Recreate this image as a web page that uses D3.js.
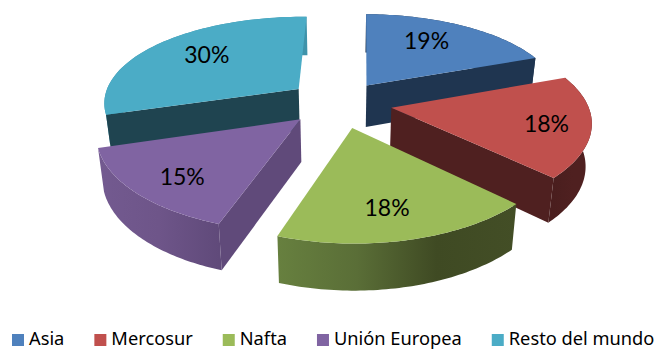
<!DOCTYPE html>
<html>
<head>
<meta charset="utf-8">
<script src="https://cdn.jsdelivr.net/npm/d3@7"></script>
<style>
html,body{margin:0;padding:0;background:#fff;overflow:hidden}
svg{display:block}
</style>
</head>
<body>
<svg id="chart" width="656" height="349"></svg>
<script>
const categories = ["Asia", "Mercosur", "Nafta", "Unión Europea", "Resto del mundo"];
const shares = [19, 18, 18, 15, 30];
const topColors = ["#4F81BD", "#C0504D", "#9BBB59", "#8064A2", "#4BACC6"];
const cutColors = ["#1F3550", "#4F2020", "#3F4A23", "#604A7A", "#1F4450"];
const wallStops = [
  ["#1F3550", "#1F3550"],
  ["#4A1E1E", "#4F2020", "#4F2020"],
  ["#67803F", "#5A6E37", "#3F4A23", "#434E26"],
  ["#735A90", "#6E5589", "#604A7A"],
  ["#3F93AA", "#3F93AA"]
];
const drawOrder = [4, 0, 3, 1, 2];
// Which radial cut faces can be seen: 0 = leading edge, 1 = trailing edge
const visibleCuts = [[1], [1], [], [0], [0]];
const explodeBy = [0.25, 0.255, 0.28, 0.26, 0.27];
const sliceNudge = [-3, 0, -3, -4, -2];
const labelRadius = [0.69, 0.78, 0.74, 0.77, 0.68];
const labelTurnDeg = [-4.5, 1, 2, -3, 3];

// Perspective of the tilted pie
const cx = 342, cy = 103, rx = 196, ry = 88, perspX = 0.14, perspY = 0.16;
const thick = 42, spread = 0.025, turn = 1 * Math.PI / 180;

function project(X, Y, z) {
  const sx = 1 / (1 - perspX * Y), sy = 1 / (1 - perspY * Y);
  const f = 1 - z * spread;
  return [cx + rx * X * sx * f, cy + ry * Y * sy + z * thick * Math.sqrt(sy)];
}

const pie = d3.pie().sort(null).value(d => d).startAngle(turn).endAngle(turn + 2 * Math.PI)(shares);
const line = d3.line();
const svg = d3.select("#chart");
const defs = svg.append("defs");

function planar(d, r, a) {
  const mid = (d.startAngle + d.endAngle) / 2, e = explodeBy[d.index];
  return [e * Math.sin(mid) + r * Math.sin(a), -e * Math.cos(mid) - r * Math.cos(a)];
}
const pt = (d, r, a, z) => {
  const p = planar(d, r, a), q = project(p[0], p[1], z);
  return [q[0] + sliceNudge[d.index], q[1]];
};
const arcAngles = d => d3.range(0, 61).map(i => d.startAngle + (d.endAngle - d.startAngle) * i / 60);

drawOrder.forEach(i => {
  const d = pie[i];
  const g = svg.append("g").attr("class", "slice");
  const angles = arcAngles(d);
  const apexTop = pt(d, 0, 0, 0), apexBot = pt(d, 0, 0, 1);

  // Outer rim, shaded from left to right along the curved wall
  const rimTop = angles.map(a => pt(d, 1, a, 0));
  const rimBot = angles.map(a => pt(d, 1, a, 1));
  const xs = rimTop.map(p => p[0]);
  const grad = defs.append("linearGradient").attr("id", "wall" + i)
    .attr("gradientUnits", "userSpaceOnUse")
    .attr("x1", d3.min(xs)).attr("x2", d3.max(xs)).attr("y1", 0).attr("y2", 0);
  wallStops[i].forEach((c, k) => grad.append("stop").attr("offset", k / (wallStops[i].length - 1)).attr("stop-color", c));
  g.append("path").attr("d", line(rimTop.concat(rimBot.slice().reverse())) + "Z").attr("fill", `url(#wall${i})`);

  // Flat cut faces along the radial edges facing the viewer
  visibleCuts[i].forEach(k => {
    const a = k ? d.endAngle : d.startAngle;
    const outT = pt(d, 1, a, 0), outB = pt(d, 1, a, 1);
    g.append("path").attr("d", line([apexTop, outT, outB, apexBot]) + "Z").attr("fill", cutColors[i]);
  });

  // Top face
  g.append("path").attr("d", line([apexTop].concat(rimTop)) + "Z").attr("fill", topColors[i]);
});

// Percentage labels on the top faces
pie.forEach((d, i) => {
  const mid = (d.startAngle + d.endAngle) / 2 + labelTurnDeg[i] * Math.PI / 180;
  const p = pt(d, labelRadius[i], mid, 0);
  svg.append("text").attr("x", p[0]).attr("y", p[1]).attr("dy", "0.35em")
    .attr("text-anchor", "middle").attr("font-family", "Lato").attr("font-size", 23).attr("fill", "#000")
    .text(d.data + "%");
});

// Legend row, laid out from the measured text widths
let lx = 12;
const legendY = 334, box = 12;
categories.forEach((c, i) => {
  svg.append("rect").attr("x", lx).attr("y", legendY).attr("width", box).attr("height", box).attr("fill", topColors[i]);
  const t = svg.append("text").attr("x", lx + box + 5).attr("y", legendY + 10.5)
    .attr("font-family", "Noto Sans").attr("font-size", 18.25).attr("fill", "#000").text(c);
  lx += box + 5 + t.node().getComputedTextLength() + 30;
});
</script>
</body>
</html>
